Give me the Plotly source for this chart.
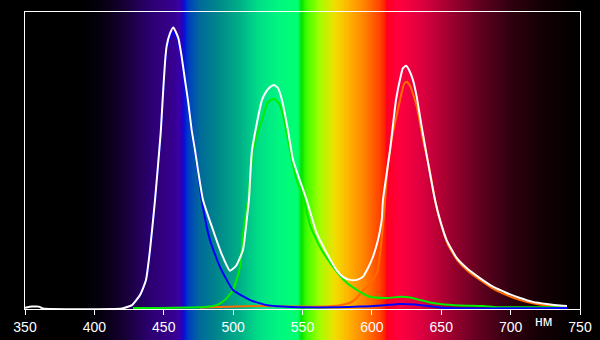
import plotly.graph_objects as go

# ---- data ----
white_nm = [350, 355, 360, 363, 420, 425.7, 427.1, 432.9, 437.2, 440.1, 443.7, 447.8, 449.2, 450.9, 452.1, 454.5,
            456.9, 460.5, 462.9, 465.3, 467.7, 470.1, 472.5, 478.3, 485.5, 492.0, 497.7, 502.1, 507.1,
            509.8, 511.4, 513.6, 520.8, 523.7, 526.6, 529.5, 532.3, 535.2, 539.5, 543.2, 553.0, 560.2,
            567.4, 574.6, 579.2, 584.2, 589.3, 593.6, 597.2, 600.8, 604.4, 607.1, 608.0, 613.1, 617.4,
            621.0, 622.4, 624.6, 626.8, 629.6, 632.3, 635.9, 640.5, 645.5, 649.1, 653.9, 661.1, 668.3,
            677.9, 687.3, 697.2, 706.8, 716.1, 726.0, 737.7, 740.6]
white_v = [0.004, 0.008, 0.008, 0.002, 0.002, 0.010, 0.013, 0.047, 0.098, 0.199, 0.367, 0.593, 0.704, 0.830, 0.885, 0.928,
           0.948, 0.912, 0.850, 0.771, 0.694, 0.603, 0.535, 0.367, 0.266, 0.182, 0.129, 0.145, 0.199,
           0.300, 0.367, 0.535, 0.704, 0.731, 0.747, 0.754, 0.744, 0.704, 0.603, 0.502, 0.367, 0.256,
           0.189, 0.131, 0.108, 0.098, 0.098, 0.109, 0.138, 0.176, 0.232, 0.300, 0.367, 0.535, 0.704,
           0.788, 0.811, 0.819, 0.805, 0.771, 0.715, 0.614, 0.492, 0.367, 0.300, 0.232, 0.172, 0.138,
           0.104, 0.075, 0.054, 0.037, 0.024, 0.017, 0.011, 0.010]

blue_nm = [425.7, 427.1, 432.9, 437.2, 440.1, 443.7, 447.8, 449.2, 450.9, 452.1, 454.5, 456.9, 460.5, 462.9,
           465.3, 467.7, 470.1, 472.5, 478.3, 483.3, 490.5, 499.9, 512.2, 524.2, 535.9, 562.6, 591.4,
           609.5, 620.3, 631.1, 644.1, 653.9, 740.6]
blue_v = [0.008, 0.012, 0.046, 0.097, 0.198, 0.366, 0.590, 0.700, 0.822, 0.875, 0.912, 0.932, 0.898, 0.840,
          0.765, 0.688, 0.597, 0.530, 0.340, 0.232, 0.142, 0.064, 0.030, 0.013, 0.008, 0.005, 0.008,
          0.013, 0.017, 0.015, 0.008, 0.003, 0.003]

green_nm = [427.8, 479.7, 488.2, 494.1, 499.9, 505.0, 507.1, 510.7, 514.3, 520.8, 525.1, 529.5, 533.8, 536.7,
            541.0, 545.3, 551.1, 555.4, 562.6, 572.0, 581.9, 591.4, 598.6, 610.7, 620.3, 627.5, 634.7,
            641.9, 649.1, 663.5, 680.1, 690.0, 737.7]
green_v = [0.003, 0.007, 0.013, 0.030, 0.064, 0.142, 0.256, 0.367, 0.535, 0.636, 0.697, 0.707, 0.687, 0.636,
           0.535, 0.441, 0.367, 0.283, 0.209, 0.142, 0.088, 0.058, 0.041, 0.037, 0.041, 0.039, 0.030,
           0.022, 0.017, 0.012, 0.010, 0.006, 0.006]

red_nm = [476.0, 519.4, 548.2, 562.6, 577.0, 584.2, 589.1, 593.0, 596.4, 603.6, 608.7, 611.6, 615.2, 620.3,
          623.2, 625.1, 627.6, 632.4, 636.9, 641.2, 646.2, 649.8, 654.6, 661.9, 669.1, 677.9, 687.3,
          697.2, 706.8, 716.1, 726.0, 737.7]
red_v = [0.004, 0.010, 0.008, 0.008, 0.013, 0.021, 0.037, 0.061, 0.074, 0.121, 0.316, 0.492, 0.593, 0.704,
         0.758, 0.765, 0.751, 0.681, 0.569, 0.479, 0.350, 0.286, 0.219, 0.162, 0.128, 0.098, 0.069,
         0.047, 0.030, 0.019, 0.012, 0.008]

x_ticks = [350, 400, 450, 500, 550, 600, 650, 700, 750]
unit_label = "нм"

# background spectrum colour stops (nm, colour)
spec_nm = [350, 390, 405, 420, 440, 455, 462, 463.5, 465, 468, 476, 490, 505, 519, 534, 547, 549, 553,
           562, 573, 584, 595, 606, 609.5, 610.5, 620, 635, 656, 678, 700, 721, 743, 750]
spec_col = ["#000000", "#000000", "#060010", "#150030", "#2c0070", "#36008a", "#3a00a8", "#2000c8",
            "#0018d8", "#0040c0", "#006a9a", "#008a8a", "#00b088", "#00e088", "#00f880", "#00ff70",
            "#00e000", "#40ff00", "#a0ff00", "#f0e000", "#ffb000", "#ff8000", "#ff4000", "#ff2000",
            "#ff0020", "#ff0040", "#e00040", "#a00030", "#600020", "#300010", "#150005", "#050000",
            "#000000"]


def hex2rgb(h):
    return tuple(int(h[i:i + 2], 16) for i in (1, 3, 5))


def spec_color(w):
    for i in range(len(spec_nm) - 1):
        if spec_nm[i] <= w <= spec_nm[i + 1]:
            t = (w - spec_nm[i]) / (spec_nm[i + 1] - spec_nm[i])
            a, b = hex2rgb(spec_col[i]), hex2rgb(spec_col[i + 1])
            c = [round(a[k] + (b[k] - a[k]) * t) for k in range(3)]
            return "rgb(%d,%d,%d)" % tuple(c)
    return "rgb(0,0,0)"


shapes = []
w = 350.0
step = 1.0
while w < 750:
    shapes.append(dict(type="rect", xref="x", yref="paper", x0=w, x1=w + step * 1.6,
                       y0=-0.2, y1=1.1, fillcolor=spec_color(w + step / 2),
                       line=dict(width=0), layer="below"))
    w += step

fig = go.Figure()
for xs, ys, col in [(red_nm, red_v, "#ff6a00"), (green_nm, green_v, "#00ee00"),
                    (blue_nm, blue_v, "#0000ff"), (white_nm, white_v, "#ffffff")]:
    fig.add_trace(go.Scatter(x=xs, y=ys, mode="lines",
                             line=dict(color=col, width=2, shape="spline", smoothing=0.5),
                             hoverinfo="skip", showlegend=False))

font_family = "Liberation Sans Narrow, Arial Narrow, Liberation Sans, sans-serif"

fig.update_layout(
    width=600, height=340,
    margin=dict(l=25, r=20, t=12, b=31, autoexpand=False),
    paper_bgcolor="#000000", plot_bgcolor="rgba(0,0,0,0)",
    shapes=shapes,
    showlegend=False,
    xaxis=dict(range=[350, 750], tickvals=x_ticks, ticktext=[str(t) for t in x_ticks],
               showgrid=False, zeroline=False, showline=True, mirror=True, linecolor="#ffffff",
               linewidth=1, ticks="outside", ticklen=5, tickcolor="#ffffff", tickwidth=1,
               automargin=False,
               tickfont=dict(family=font_family, size=14, color="#ffffff")),
    yaxis=dict(range=[0, 1], showgrid=False, zeroline=False, showticklabels=False, ticks="",
               showline=True, mirror=True, linecolor="#ffffff", linewidth=1, automargin=False),
    annotations=[dict(text=unit_label, x=724, y=-0.04, xref="x", yref="paper", showarrow=False,
                      xanchor="center", yanchor="middle",
                      font=dict(family=font_family, size=14, color="#ffffff"))],
)

fig.write_html("out.html")
